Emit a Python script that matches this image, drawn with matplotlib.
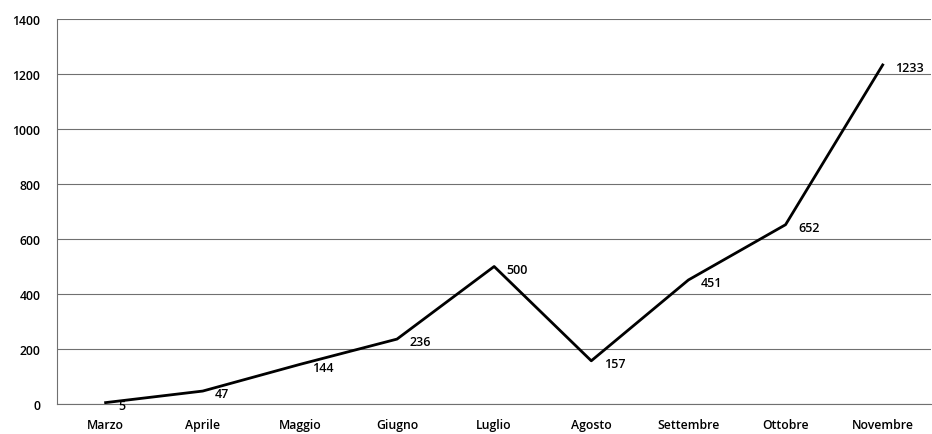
import matplotlib
matplotlib.use("Agg")
import matplotlib.pyplot as plt

mesi = ["Marzo", "Aprile", "Maggio", "Giugno", "Luglio", "Agosto",
        "Settembre", "Ottobre", "Novembre"]
valori = [5, 47, 144, 236, 500, 157, 451, 652, 1233]
y_ticks = [0, 200, 400, 600, 800, 1000, 1200, 1400]

plt.rcParams["font.family"] = ["Open Sans", "DejaVu Sans"]

fig = plt.figure(figsize=(9.32, 4.35), dpi=100, facecolor="white")
ax = fig.add_axes([0.0612, 0.069, 0.938, 0.885])

x = list(range(len(mesi)))
ax.plot(x, valori, color="black", linewidth=2.0, zorder=3)

# etichette dei valori a destra di ogni punto
for xi, v in zip(x, valori):
    ax.annotate(str(v), (xi, v), xytext=(9, -2), textcoords="offset points",
                ha="left", va="center", fontsize=9, fontweight="semibold",
                color="black", zorder=4)

ax.set_xlim(-0.5, len(mesi) - 0.5)
ax.set_ylim(0, 1400)
ax.set_yticks(y_ticks)
ax.set_xticks(x)
ax.set_xticklabels(mesi)
ax.yaxis.grid(True, color="#707070", linewidth=0.8)
ax.set_axisbelow(True)
ax.tick_params(length=0, labelsize=8.8, colors="black")
ax.tick_params(axis="x", pad=10)
ax.tick_params(axis="y", pad=12)
for lab in ax.get_xticklabels() + ax.get_yticklabels():
    lab.set_fontweight("semibold")

for s in ["top", "right"]:
    ax.spines[s].set_visible(False)
ax.spines["left"].set_color("#707070")
ax.spines["bottom"].set_color("#707070")
ax.spines["left"].set_linewidth(0.8)
ax.spines["bottom"].set_linewidth(0.8)

fig.savefig("out.png", dpi=100, facecolor="white")
